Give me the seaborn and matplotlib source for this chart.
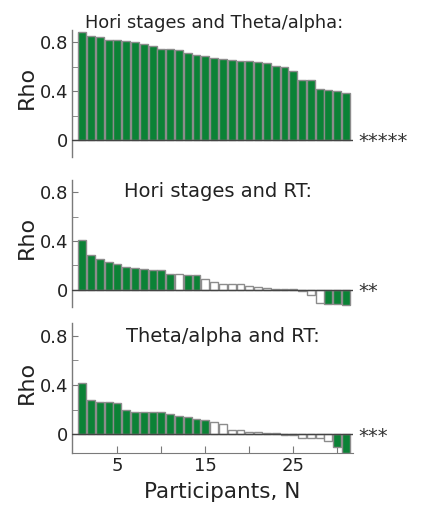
import numpy as np
import pandas as pd
import seaborn as sns
import matplotlib.pyplot as plt
import matplotlib.transforms as mtransforms

# participants sorted by correlation in each panel
participants = list(range(1, 32))

hori_theta = [0.885, 0.852, 0.841, 0.820, 0.817, 0.811, 0.800, 0.784, 0.773, 0.746,
              0.746, 0.740, 0.716, 0.697, 0.686, 0.672, 0.661, 0.658, 0.650, 0.650,
              0.642, 0.628, 0.609, 0.601, 0.566, 0.492, 0.489, 0.415, 0.407, 0.399, 0.388]
hori_theta_sig = [1] * 31

hori_rt = [0.408, 0.283, 0.250, 0.229, 0.207, 0.182, 0.174, 0.166, 0.163, 0.158,
           0.125, 0.125, 0.117, 0.117, 0.087, 0.060, 0.050, 0.050, 0.045, 0.030,
           0.019, 0.011, 0.008, 0.008, 0.005, -0.014, -0.040, -0.106, -0.120, -0.120, -0.128]
hori_rt_sig = [1] * 11 + [0] + [1, 1] + [0] * 14 + [1, 1, 1]

theta_rt = [0.414, 0.279, 0.260, 0.258, 0.255, 0.200, 0.184, 0.181, 0.181, 0.178,
            0.167, 0.145, 0.137, 0.123, 0.115, 0.100, 0.085, 0.037, 0.032, 0.021,
            0.019, 0.011, 0.008, -0.008, -0.010, -0.029, -0.029, -0.032, -0.059, -0.107, -0.155]
theta_rt_sig = [1] * 15 + [0] * 14 + [1, 1]

titles = ["Hori stages and Theta/alpha:", "Hori stages and RT:", "Theta/alpha and RT:"]
stars = ["*****", "**", "***"]

green = "#0b8236"
txt = "#222222"
gray = "#7a7a7a"

sns.set_style("ticks")
plt.rcParams['font.family'] = ['DejaVu Sans']

fig = plt.figure(figsize=(4.29, 5.05), dpi=100)
rects = [[0.168, 0.689, 0.655, 0.2515],
         [0.168, 0.3927, 0.655, 0.2509],
         [0.168, 0.1036, 0.655, 0.256]]
title_pos = [(0.505, 1.016, 12.8), (0.521, 0.868, 14), (0.537, 0.858, 14)]
panels = [(hori_theta, hori_theta_sig), (hori_rt, hori_rt_sig), (theta_rt, theta_rt_sig)]

for i, (vals, sig) in enumerate(panels):
    ax = fig.add_axes(rects[i])
    df = pd.DataFrame({"participant": participants, "rho": vals,
                       "sig": ["yes" if s else "no" for s in sig]})
    sns.barplot(data=df, x="participant", y="rho", hue="sig",
                palette={"yes": green, "no": "white"}, native_scale=True,
                width=0.9, edgecolor="#8c8c8c", linewidth=1, errorbar=None,
                saturation=1, dodge=False, legend=False, ax=ax)
    ax.axhline(0, color="#444444", lw=1, zorder=3)
    ax.set_xlim(-0.15, 31.8)
    ax.set_ylim(-0.15 if i == 2 else -0.14, 0.9)

    for s in ["top", "right"]:
        ax.spines[s].set_visible(False)
    ax.spines["left"].set_color(gray)
    ax.spines["left"].set_linewidth(1)

    ax.set_yticks([0, 0.4, 0.8])
    ax.set_yticklabels(["0", "0.4", "0.8"])
    ax.set_yticks([0.2, 0.6], minor=True)
    ax.tick_params(axis="y", which="both", direction="in", length=4, color=gray,
                   labelsize=13, labelcolor=txt, pad=3)

    if i < 2:
        ax.spines["bottom"].set_visible(False)
        ax.set_xticks([])
    else:
        ax.spines["bottom"].set_color(gray)
        ax.set_xticks([5, 10, 15, 20, 25, 30])
        ax.set_xticklabels(["5", "", "15", "", "25", ""])
        ax.tick_params(axis="x", direction="in", length=5, color=gray,
                       labelsize=13, labelcolor=txt, pad=3)
    ax.set_xlabel("")
    ax.set_ylabel("")

    ax.text(-0.16, 0.545, "Rho", rotation=90, ha="center", va="center",
            fontsize=16, color=txt, transform=ax.transAxes)
    tx, ty, ts = title_pos[i]
    ax.text(tx, ty, titles[i], ha="center", va="baseline", fontsize=ts,
            color=txt, transform=ax.transAxes)
    trans = mtransforms.blended_transform_factory(ax.transAxes, ax.transData)
    ax.text(1.018, -0.015, stars[i], ha="left", va="center", fontsize=14,
            color="#333333", transform=trans)

fig.text(0.519, 0.0139, "Participants, N", ha="center", va="baseline",
         fontsize=15.5, color=txt)

fig.savefig("out.png", dpi=100)
